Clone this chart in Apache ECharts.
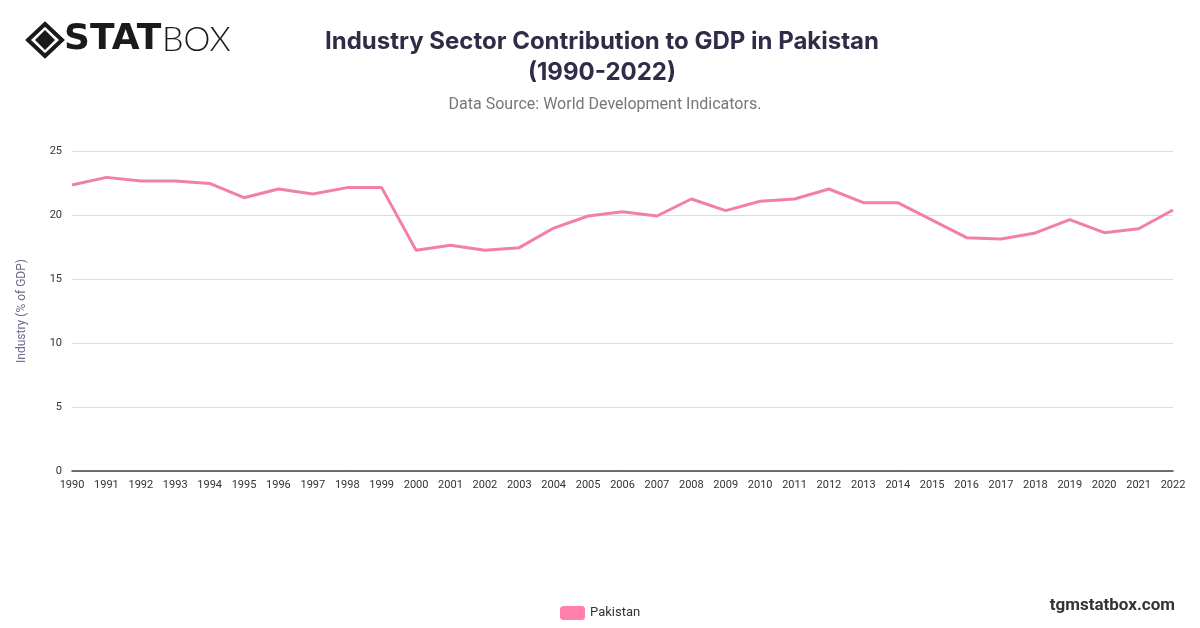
<!DOCTYPE html>
<html>
<head>
<meta charset="utf-8">
<script src="https://cdn.jsdelivr.net/npm/echarts@6/dist/echarts.min.js"></script>
<style>html,body{margin:0;padding:0;background:#fff;}#c{width:1200px;height:628px;}</style>
</head>
<body>
<div id="c"></div>
<script>
var years = ['1990','1991','1992','1993','1994','1995','1996','1997','1998','1999','2000','2001','2002','2003','2004','2005','2006','2007','2008','2009','2010','2011','2012','2013','2014','2015','2016','2017','2018','2019','2020','2021','2022'];
var pakistan = [22.34,22.94,22.66,22.66,22.47,21.35,22.03,21.64,22.14,22.14,17.24,17.63,17.24,17.45,18.98,19.92,20.26,19.92,21.25,20.34,21.07,21.25,22.03,20.96,20.96,19.6,18.23,18.13,18.6,19.64,18.62,18.93,20.39];
var yTicks = [0,5,10,15,20,25];

var chart = echarts.init(document.getElementById('c'));
chart.setOption({
  backgroundColor:'#fff',
  animation:false,
  title:[{
    text:'Industry Sector Contribution to GDP in Pakistan\n(1990-2022)',
    left:597, top:21, textAlign:'center',
    textStyle:{fontFamily:'Inter',fontSize:24,fontWeight:'bold',color:'#2f2c48',lineHeight:31}
  },{
    text:'Data Source: World Development Indicators.',
    left:600, top:92, textAlign:'center',
    textStyle:{fontFamily:'Roboto',fontSize:16,fontWeight:'normal',color:'#777'}
  }],
  legend:{
    left:555, top:601, itemWidth:25, itemHeight:14, icon:'roundRect',
    textStyle:{fontFamily:'Roboto',fontSize:13,color:'#333'},
    data:['Pakistan']
  },
  grid:{left:72,right:27,top:151,bottom:157},
  xAxis:{
    type:'category', data:years, boundaryGap:false,
    axisLine:{lineStyle:{color:'#444',width:1.5}},
    axisTick:{show:false},
    axisLabel:{fontFamily:'Roboto',fontSize:11,color:'#333',interval:0,margin:9}
  },
  yAxis:{
    type:'value', min:0, max:25, interval:5,
    name:'Industry (% of GDP)', nameLocation:'middle', nameGap:44,
    nameTextStyle:{fontFamily:'Roboto',fontSize:12,color:'#6e6a8a'},
    axisLine:{show:false}, axisTick:{show:false},
    axisLabel:{fontFamily:'Roboto',fontSize:11,color:'#333',margin:10,formatter:function(v){return yTicks.indexOf(v)>=0?String(v):'';}},
    splitLine:{lineStyle:{color:'#dcdcdc',width:1}}
  },
  series:[{
    name:'Pakistan', type:'line', data:pakistan, showSymbol:false, symbol:'none',
    lineStyle:{color:'#f27fa8',width:3},
    itemStyle:{color:'#ff80ab'}
  }],
  graphic:[
    {type:'polygon',shape:{points:[[45,24],[62,40],[45,56],[28,40]]},style:{fill:'none',stroke:'#1a1a1a',lineWidth:4}},
    {type:'polygon',shape:{points:[[45,30],[55,40],[45,50],[35,40]]},style:{fill:'#1a1a1a'}},
    {type:'text',left:64,top:22,style:{text:'STAT',fontFamily:'DejaVu Sans',fontWeight:'bold',fontSize:36,fill:'#1a1a1a'}},
    {type:'text',left:162,top:23,style:{text:'BOX',fontFamily:'Lato',fontWeight:300,fontSize:34,fill:'#1a1a1a'}},
    {type:'text',right:25,top:597,style:{text:'tgmstatbox.com',fontFamily:'Roboto',fontWeight:'bold',fontSize:17,fill:'#333'}}
  ]
});
</script>
</body>
</html>
